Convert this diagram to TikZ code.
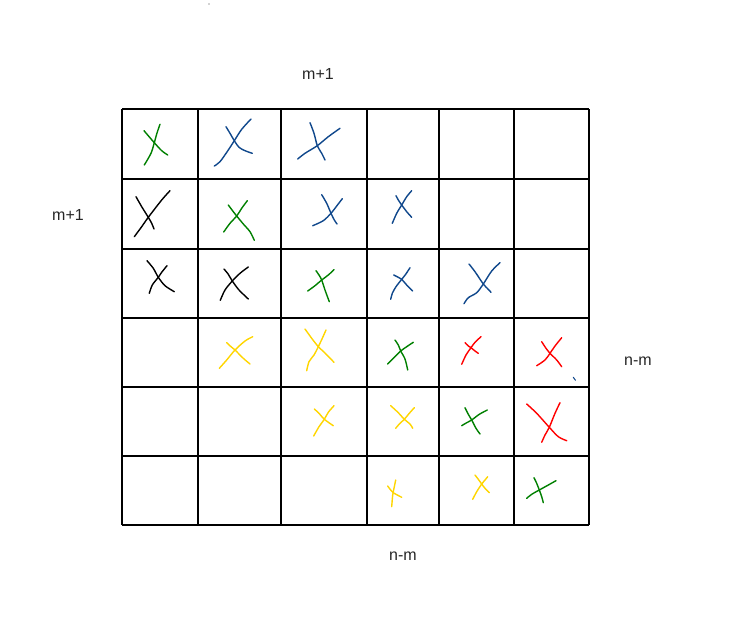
\documentclass[tikz,border=0pt]{standalone}
\usepackage{fontspec}
\setmainfont{Liberation Sans}
\definecolor{pgreen}{RGB}{0,128,0}
\definecolor{pblue}{RGB}{16,72,140}
\definecolor{pred}{RGB}{255,0,0}
\definecolor{pyellow}{RGB}{255,214,0}
\begin{document}
\begin{tikzpicture}[x=1pt,y=-1pt,
  gridline/.style={line width=2pt,black},
  xstroke/.style={line width=1.4pt,line cap=round,line join=round},
  lbl/.style={font=\fontsize{16}{18}\selectfont,inner sep=0pt,anchor=base,text=black!85}]
\useasboundingbox (0,0) rectangle (755,634);
\fill[white] (0,0) rectangle (755,634);
% grid
\foreach \x in {122,198,281,367,439,514,589} \draw[gridline] (\x,109) -- (\x,525);
\foreach \y in {109,179,249,318,387,456,525} \draw[gridline] (122,\y) -- (589,\y);
% labels
\node[lbl] (ltop) at (318,79.5) {m+1};
\node[lbl] (lleft) at (68,220.5) {m+1};
\node[lbl] (lright) at (638,365) {n-m};
\node[lbl] (lbot) at (403,560.5) {n-m};
% row 0
\draw[xstroke,pgreen] plot[smooth] coordinates {(160,124.3) (157,133) (154.3,142.7) (151,153.3) (144.3,165)};
\draw[xstroke,pgreen] plot[smooth] coordinates {(144,130.7) (154.3,142.7) (161.7,150.7) (167.7,155)};
\draw[xstroke,pblue] plot[smooth] coordinates {(251,119) (241.7,129.3) (234.3,140.7) (228.3,150) (220,161.7) (214.3,166)};
\draw[xstroke,pblue] plot[smooth] coordinates {(226,126.7) (230,133.3) (234.3,140.7) (239,147.3) (245,150.7) (252.3,153.3)};
\draw[xstroke,pblue] plot[smooth] coordinates {(310,122.7) (314,133.3) (317.3,145.7) (321.7,153.3) (325,160)};
\draw[xstroke,pblue] plot[smooth] coordinates {(340,128.3) (328.3,136.7) (317.3,145.7) (305,153.3) (297.7,159)};
% row 1
\draw[xstroke,black] plot[smooth] coordinates {(170,190.7) (161.7,200) (148.3,217.3) (141.7,226.7) (134.3,236.7)};
\draw[xstroke,black] plot[smooth] coordinates {(136,196.7) (141.7,206.7) (148.3,217.3) (151.7,223.3) (154,229)};
\draw[xstroke,pgreen] plot[smooth] coordinates {(247.3,200.7) (241.7,208.3) (236.7,216) (230,223.3) (223.7,232)};
\draw[xstroke,pgreen] plot[smooth] coordinates {(228.3,205) (233.3,211.7) (236.7,216) (243.3,224) (250,231.7) (254.3,240.3)};
\draw[xstroke,pblue] plot[smooth] coordinates {(321.7,194.7) (326.7,203.3) (331,213.3) (334.3,220) (337,224)};
\draw[xstroke,pblue] plot[smooth] coordinates {(342.3,198.7) (336.7,206) (331,213.3) (323.3,220.7) (312.7,225.7)};
\draw[xstroke,pblue] plot[smooth] coordinates {(411.7,190.7) (406.7,196.7) (401.7,205) (396.7,213.3) (392.3,223.3)};
\draw[xstroke,pblue] plot[smooth] coordinates {(396,195.7) (398.3,200) (401.7,205) (406.7,211.7) (411.7,217.3)};
% row 2
\draw[xstroke,black] plot[smooth] coordinates {(147,260.7) (153.3,268.3) (158.3,277.3) (165,285.7) (174.3,291.7)};
\draw[xstroke,black] plot[smooth] coordinates {(167,265.7) (161.7,272.3) (158.3,277.3) (152.3,285) (149.3,293.3)};
\draw[xstroke,black] plot[smooth] coordinates {(248.3,267) (240,273.3) (232.3,281) (225,290) (220.3,300.3)};
\draw[xstroke,black] plot[smooth] coordinates {(224,269) (228.3,274.3) (232.3,281) (239,290) (248.3,299)};
\draw[xstroke,pgreen] plot[smooth] coordinates {(316,270.7) (319,275) (321.7,280) (325,290) (329.3,301.7)};
\draw[xstroke,pgreen] plot[smooth] coordinates {(334,269.7) (328.3,275) (321.7,280) (315,285.7) (307.7,291)};
\draw[xstroke,pblue] plot[smooth] coordinates {(410,267.7) (405.7,274.3) (401.7,279.3) (396,286.7) (392.3,293.3) (390.7,299.3)};
\draw[xstroke,pblue] plot[smooth] coordinates {(393.7,275) (398.3,277.3) (401.7,279.3) (406.7,285) (412.7,291)};
\draw[xstroke,pblue] plot[smooth] coordinates {(500,262.7) (491.7,271) (483.3,284) (476.7,292.7) (468.3,297.7) (464,303.7)};
\draw[xstroke,pblue] plot[smooth] coordinates {(469,264) (475,271.7) (483.3,284) (487.3,288.3) (491,292.3)};
% row 3
\draw[xstroke,pyellow] plot[smooth] coordinates {(252.7,336.7) (245,341) (235,350) (226.7,360) (219.3,368.3)};
\draw[xstroke,pyellow] plot[smooth] coordinates {(226.7,342.7) (231,346.7) (235,350) (243.3,358.3) (250,364)};
\draw[xstroke,pyellow] plot[smooth] coordinates {(305,329) (311.7,338.3) (318.3,346.7) (324.3,352.3) (334,362.3)};
\draw[xstroke,pyellow] plot[smooth] coordinates {(326,330) (322.3,338.3) (318.3,346.7) (314,355) (309,361.7) (306.7,370.7)};
\draw[xstroke,pgreen] plot[smooth] coordinates {(395,340) (398.3,345) (400.7,351) (405,359) (407.7,370)};
\draw[xstroke,pgreen] plot[smooth] coordinates {(413.3,342.3) (406.7,346.7) (400.7,351) (393.3,358.3) (387.7,364)};
\draw[xstroke,pred] plot[smooth] coordinates {(481,336.7) (475,342.3) (471,347.7) (466,355) (461.7,364.3)};
\draw[xstroke,pred] plot[smooth] coordinates {(465,342.7) (468.3,346) (471,347.7) (475,351) (478.3,353.3)};
\draw[xstroke,pred] plot[smooth] coordinates {(561.7,337.7) (555,346) (550,353.3) (545,360) (536.7,365.7)};
\draw[xstroke,pred] plot[smooth] coordinates {(541.7,341.7) (546,348.3) (550,353.3) (556.7,360) (561.7,366.7)};
\draw[xstroke,pblue,line width=1pt] (573.3,377.3) -- (575.5,380.3);
% row 4
\draw[xstroke,pyellow] plot[smooth] coordinates {(334,405.7) (328.3,412.3) (324.3,419.3) (319,426.7) (313.7,436)};
\draw[xstroke,pyellow] plot[smooth] coordinates {(314.3,409) (319,413.3) (324.3,419.3) (333.3,425.7)};
\draw[xstroke,pyellow] plot[smooth] coordinates {(390.7,405.7) (398.3,412.7) (404.3,419.3) (410,424) (412.7,428.3)};
\draw[xstroke,pyellow] plot[smooth] coordinates {(414.3,407.7) (409.3,413.3) (404.3,419.3) (399.3,424) (395.7,428.3)};
\draw[xstroke,pgreen] plot[smooth] coordinates {(487.3,410) (479.3,414.3) (471.7,420) (466.7,422.7) (461.7,425.7)};
\draw[xstroke,pgreen] plot[smooth] coordinates {(465,407.7) (468.3,414.3) (471.7,420) (476,428.3) (480,434)};
\draw[xstroke,pred] plot[smooth] coordinates {(526.7,404) (536.7,413.3) (549.3,427.3) (558.3,436.7) (566.7,440.7)};
\draw[xstroke,pred] plot[smooth] coordinates {(560,402.7) (555,413.3) (549.3,427.3) (545,435) (541.7,442.3)};
% row 5
\draw[xstroke,pyellow] plot[smooth] coordinates {(395.7,480) (394,488.3) (392.7,495) (391.7,506.7)};
\draw[xstroke,pyellow] plot[smooth] coordinates {(387.7,486) (390.7,490) (393.3,492.7) (397.3,495) (401.7,497.3)};
\draw[xstroke,pyellow] plot[smooth] coordinates {(475,475) (478.3,479.3) (481.7,484) (485,488.3) (489.3,492.7)};
\draw[xstroke,pyellow] plot[smooth] coordinates {(487.7,476.7) (485,480) (481.7,484) (476.7,491.7) (472.7,499.3)};
\draw[xstroke,pgreen] plot[smooth] coordinates {(556,480.7) (548.3,485) (539.3,490) (531.7,494.3) (526.7,498.3)};
\draw[xstroke,pgreen] plot[smooth] coordinates {(534,477.7) (536.7,483.3) (539.3,490) (541.7,496.7) (543.3,502.7)};
% stray dot
\fill[gray!70] (209,4) circle (0.8);
\end{tikzpicture}
\end{document}
